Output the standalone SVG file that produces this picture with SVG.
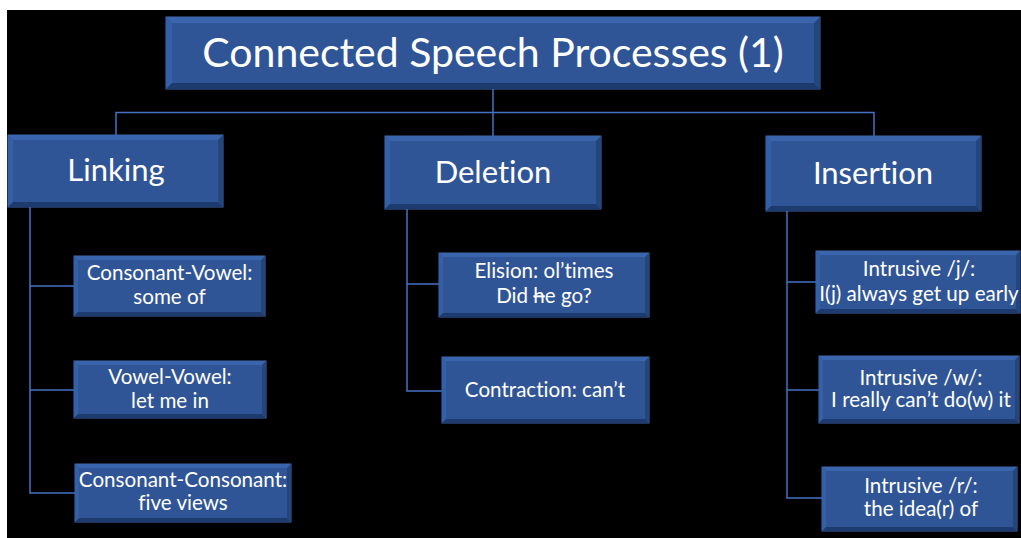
<svg xmlns="http://www.w3.org/2000/svg" width="1021" height="538" viewBox="0 0 1021 538">
  <defs>
    <style>
      .face { fill: #2F5597; stroke: #4069AE; stroke-width: 1; }
      .bt { fill: #3A64AC; }
      .bl { fill: #3560A6; }
      .br { fill: #24467F; }
      .bb { fill: #1E3B6F; }
      .lbl { font-family: Lato, "Open Sans", "Liberation Sans", sans-serif; fill: #FFFFFF; text-anchor: middle; font-variant-ligatures: none; }
      .h0 { font-size: 41px; }
      .h1 { font-size: 31px; }
      .h2 { font-size: 20.6px; }
      .wire { fill: none; stroke: #4472C4; stroke-width: 1.5; }
      .strike { text-decoration: line-through; }
    </style>
  </defs>

  <rect x="0" y="0" width="1021" height="538" fill="#FFFFFF"/>
  <rect x="7" y="10" width="1014" height="528" fill="#000000"/>

  <!-- connectors -->
  <g id="connectors" class="wire">
    <path d="M493 89 V136 M116 135 V112.5 H874 V136"/>
    <path d="M30 207 V493 H75 M30 286 H74 M30 390 H74"/>
    <path d="M407 209 V391 H442 M407 284 H439"/>
    <path d="M787 211 V498 H822 M787 282 H816 M787 390 H819"/>
  </g>

  <!-- root -->
  <g id="node-root">
    <rect class="face" x="166" y="17" width="654" height="72"/>
    <polygon class="bt" points="166,17 820,17 814,23 172,23"/>
    <polygon class="bl" points="166,17 172,23 172,83 166,89"/>
    <polygon class="br" points="820,17 820,89 814,83 814,23"/>
    <polygon class="bb" points="166,89 172,83 814,83 820,89"/>
    <text class="lbl h0" x="493" y="67">Connected Speech Processes (1)</text>
  </g>

  <!-- level 1 -->
  <g id="node-linking">
    <rect class="face" x="8" y="135" width="215" height="72"/>
    <polygon class="bt" points="8,135 223,135 218,140 13,140"/>
    <polygon class="bl" points="8,135 13,140 13,202 8,207"/>
    <polygon class="br" points="223,135 223,207 218,202 218,140"/>
    <polygon class="bb" points="8,207 13,202 218,202 223,207"/>
    <text class="lbl h1" x="116" y="181">Linking</text>
  </g>

  <g id="node-deletion">
    <rect class="face" x="385" y="136" width="216" height="73"/>
    <polygon class="bt" points="385,136 601,136 596,141 390,141"/>
    <polygon class="bl" points="385,136 390,141 390,204 385,209"/>
    <polygon class="br" points="601,136 601,209 596,204 596,141"/>
    <polygon class="bb" points="385,209 390,204 596,204 601,209"/>
    <text class="lbl h1" x="493" y="183">Deletion</text>
  </g>

  <g id="node-insertion">
    <rect class="face" x="766" y="136" width="215" height="75"/>
    <polygon class="bt" points="766,136 981,136 976,141 771,141"/>
    <polygon class="bl" points="766,136 771,141 771,206 766,211"/>
    <polygon class="br" points="981,136 981,211 976,206 976,141"/>
    <polygon class="bb" points="766,211 771,206 976,206 981,211"/>
    <text class="lbl h1" x="873" y="184">Insertion</text>
  </g>

  <!-- linking children -->
  <g id="node-cv">
    <rect class="face" x="74" y="256" width="191" height="60"/>
    <polygon class="bt" points="74,256 265,256 261,260 78,260"/>
    <polygon class="bl" points="74,256 78,260 78,312 74,316"/>
    <polygon class="br" points="265,256 265,316 261,312 261,260"/>
    <polygon class="bb" points="74,316 78,312 261,312 265,316"/>
    <text class="lbl h2" x="169.5" y="280">Consonant-Vowel:</text>
    <text class="lbl h2" x="169.5" y="304">some of</text>
  </g>

  <g id="node-vv">
    <rect class="face" x="74" y="361" width="192" height="57"/>
    <polygon class="bt" points="74,361 266,361 262,365 78,365"/>
    <polygon class="bl" points="74,361 78,365 78,414 74,418"/>
    <polygon class="br" points="266,361 266,418 262,414 262,365"/>
    <polygon class="bb" points="74,418 78,414 262,414 266,418"/>
    <text class="lbl h2" x="170" y="384">Vowel-Vowel:</text>
    <text class="lbl h2" x="170" y="408">let me in</text>
  </g>

  <g id="node-cc">
    <rect class="face" x="75" y="464" width="216" height="58"/>
    <polygon class="bt" points="75,464 291,464 287,468 79,468"/>
    <polygon class="bl" points="75,464 79,468 79,518 75,522"/>
    <polygon class="br" points="291,464 291,522 287,518 287,468"/>
    <polygon class="bb" points="75,522 79,518 287,518 291,522"/>
    <text class="lbl h2" x="183" y="487">Consonant-Consonant:</text>
    <text class="lbl h2" x="183" y="510">five views</text>
  </g>

  <!-- deletion children -->
  <g id="node-elision">
    <rect class="face" x="439" y="253" width="210" height="64"/>
    <polygon class="bt" points="439,253 649,253 645,257 443,257"/>
    <polygon class="bl" points="439,253 443,257 443,313 439,317"/>
    <polygon class="br" points="649,253 649,317 645,313 645,257"/>
    <polygon class="bb" points="439,317 443,313 645,313 649,317"/>
    <text class="lbl h2" x="544" y="278">Elision: ol’times</text>
    <text class="lbl h2" x="544" y="303">Did <tspan class="strike">h</tspan>e go?</text>
  </g>

  <g id="node-contraction">
    <rect class="face" x="442" y="357" width="207" height="66"/>
    <polygon class="bt" points="442,357 649,357 645,361 446,361"/>
    <polygon class="bl" points="442,357 446,361 446,419 442,423"/>
    <polygon class="br" points="649,357 649,423 645,419 645,361"/>
    <polygon class="bb" points="442,423 446,419 645,419 649,423"/>
    <text class="lbl h2" x="545" y="397">Contraction: can’t</text>
  </g>

  <!-- insertion children -->
  <g id="node-j">
    <rect class="face" x="816" y="251" width="204" height="62"/>
    <polygon class="bt" points="816,251 1020,251 1016,255 820,255"/>
    <polygon class="bl" points="816,251 820,255 820,309 816,313"/>
    <polygon class="br" points="1020,251 1020,313 1016,309 1016,255"/>
    <polygon class="bb" points="816,313 820,309 1016,309 1020,313"/>
    <text class="lbl h2" x="919" y="276">Intrusive /j/:</text>
    <text class="lbl h2" x="919" y="301">I(j) always get up early</text>
  </g>

  <g id="node-w">
    <rect class="face" x="819" y="356" width="200" height="67"/>
    <polygon class="bt" points="819,356 1019,356 1015,360 823,360"/>
    <polygon class="bl" points="819,356 823,360 823,419 819,423"/>
    <polygon class="br" points="1019,356 1019,423 1015,419 1015,360"/>
    <polygon class="bb" points="819,423 823,419 1015,419 1019,423"/>
    <text class="lbl h2" x="921" y="385">Intrusive /w/:</text>
    <text class="lbl h2" x="921" y="407">I really can’t do(w) it</text>
  </g>

  <g id="node-r">
    <rect class="face" x="822" y="467" width="195" height="64"/>
    <polygon class="bt" points="822,467 1017,467 1013,471 826,471"/>
    <polygon class="bl" points="822,467 826,471 826,527 822,531"/>
    <polygon class="br" points="1017,467 1017,531 1013,527 1013,471"/>
    <polygon class="bb" points="822,531 826,527 1013,527 1017,531"/>
    <text class="lbl h2" x="921" y="493">Intrusive /r/:</text>
    <text class="lbl h2" x="921" y="516">the idea(r) of</text>
  </g>
</svg>
